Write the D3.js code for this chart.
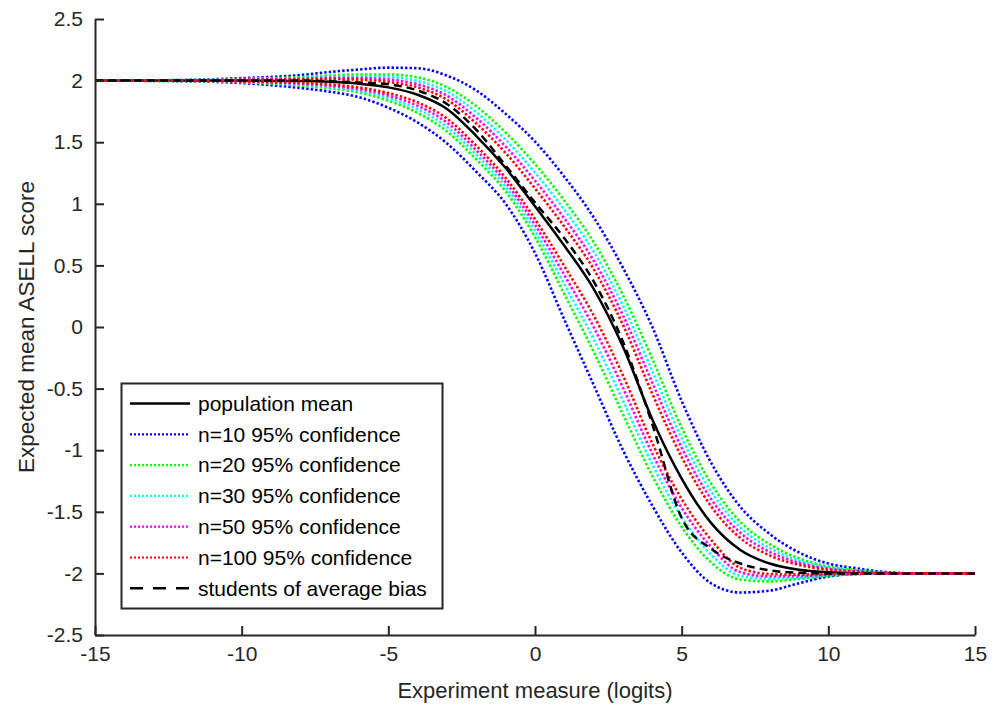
<!DOCTYPE html>
<html>
<head>
<meta charset="utf-8">
<script src="https://cdn.jsdelivr.net/npm/d3@7"></script>
<style>
  body { margin: 0; background: #fff; }
  svg { display: block; }
  text { font-family: "Liberation Sans", Arial, Helvetica, sans-serif; }
</style>
</head>
<body>
<svg id="chart" width="995" height="713"></svg>
<script>
// Person measure grid (logits) shared by every curve
const logits = [-15, -12, -10, -8, -7, -6, -5, -4, -3, -2, -1, 0, 1, 2, 3, 4, 5, 6, 7, 8, 9, 10, 11, 12, 13, 15];

// Expected mean ASELL score for the population
const populationMean = [2.00, 2.00, 2.00, 1.997, 1.99, 1.975, 1.945, 1.885, 1.77, 1.55, 1.29, 0.98, 0.66, 0.31, -0.16, -0.75, -1.23, -1.59, -1.81, -1.92, -1.97, -1.99, -1.998, -2.00, -2.00, -2.00];

// 95% confidence limits for class samples of size n
const n10Upper = [2.00, 2.005, 2.02, 2.045, 2.07, 2.09, 2.105, 2.10, 2.04, 1.92, 1.73, 1.505, 1.22, 0.89, 0.48, 0.00, -0.60, -1.10, -1.46, -1.68, -1.83, -1.92, -1.96, -1.99, -2.00, -2.00];
const n10Lower = [2.00, 1.995, 1.98, 1.94, 1.91, 1.865, 1.78, 1.66, 1.49, 1.26, 1.00, 0.60, 0.06, -0.47, -1.00, -1.45, -1.83, -2.08, -2.155, -2.14, -2.08, -2.025, -2.005, -2.00, -2.00, -2.00];
const n20Upper = [2.00, 2.003, 2.013, 2.028, 2.042, 2.050, 2.050, 2.026, 1.947, 1.792, 1.578, 1.323, 1.026, 0.689, 0.259, -0.259, -0.818, -1.270, -1.581, -1.763, -1.878, -1.944, -1.973, -1.993, -2.00, -2.00];
const n20Lower = [2.00, 1.997, 1.987, 1.960, 1.938, 1.903, 1.837, 1.738, 1.587, 1.360, 1.100, 0.731, 0.268, -0.200, -0.709, -1.208, -1.622, -1.910, -2.050, -2.065, -2.045, -2.020, -2.005, -2.00, -2.00, -2.00];
const n30Upper = [2.00, 2.003, 2.010, 2.022, 2.032, 2.035, 2.029, 1.997, 1.911, 1.743, 1.520, 1.254, 0.952, 0.613, 0.174, -0.358, -0.901, -1.334, -1.627, -1.795, -1.897, -1.953, -1.978, -1.995, -2.00, -2.00];
const n30Lower = [2.00, 1.997, 1.990, 1.967, 1.948, 1.918, 1.859, 1.768, 1.624, 1.399, 1.139, 0.782, 0.347, -0.097, -0.598, -1.115, -1.543, -1.846, -2.020, -2.045, -2.035, -2.015, -2.004, -2.00, -2.00, -2.00];
const n50Upper = [2.00, 2.002, 2.008, 2.016, 2.022, 2.021, 2.009, 1.970, 1.877, 1.697, 1.465, 1.188, 0.882, 0.540, 0.094, -0.452, -0.980, -1.395, -1.671, -1.825, -1.914, -1.962, -1.983, -1.996, -2.00, -2.00];
const n50Lower = [2.00, 1.998, 1.992, 1.974, 1.958, 1.931, 1.879, 1.796, 1.659, 1.435, 1.175, 0.829, 0.422, 0.000, -0.493, -1.028, -1.468, -1.785, -1.990, -2.025, -2.022, -2.010, -2.003, -2.00, -2.00, -2.00];
const n100Upper = [2.00, 2.001, 2.006, 2.010, 2.012, 2.007, 1.989, 1.945, 1.845, 1.652, 1.412, 1.125, 0.815, 0.471, 0.017, -0.542, -1.055, -1.454, -1.713, -1.854, -1.931, -1.971, -1.987, -1.997, -2.00, -2.00];
const n100Lower = [2.00, 1.999, 1.994, 1.981, 1.968, 1.945, 1.899, 1.823, 1.692, 1.470, 1.210, 0.875, 0.494, 0.094, -0.393, -0.944, -1.396, -1.726, -1.955, -2.005, -2.010, -2.005, -2.002, -2.00, -2.00, -2.00];

// Expected score for students of average bias
const averageBias = [2.00, 2.00, 2.00, 2.00, 1.995, 1.985, 1.97, 1.92, 1.81, 1.60, 1.31, 1.01, 0.72, 0.37, -0.12, -0.79, -1.55, -1.80, -1.92, -1.975, -1.995, -2.00, -2.00, -2.00, -2.00, -2.00];

// Axis ticks and labels
const xTicks = [-15, -10, -5, 0, 5, 10, 15];
const yTicks = [-2.5, -2, -1.5, -1, -0.5, 0, 0.5, 1, 1.5, 2, 2.5];
const xTitle = "Experiment measure (logits)";
const yTitle = "Expected mean ASELL score";

// Legend entries
const legendLabels = [
  "population mean",
  "n=10 95% confidence",
  "n=20 95% confidence",
  "n=30 95% confidence",
  "n=50 95% confidence",
  "n=100 95% confidence",
  "students of average bias"
];

// ---------------------------------------------------------------------
const svg = d3.select("#chart");
const margin = { left: 95, right: 20, top: 19, bottom: 78 };
const W = 995, H = 713;

const x = d3.scaleLinear().domain([-15, 15]).range([margin.left, W - margin.right]);
const y = d3.scaleLinear().domain([-2.5, 2.5]).range([H - margin.bottom, margin.top]);

const axisColor = "#262626";

const line = d3.line()
  .x((d, i) => x(logits[i]))
  .y(d => y(d))
  .curve(d3.curveMonotoneX);

const dotted = { width: 2.6, dash: "2.4,2.1" };
const series = [
  { values: [populationMean], color: "#000000", width: 2.5, dash: null },
  { values: [n10Upper, n10Lower], color: "#0000ff", width: dotted.width, dash: dotted.dash },
  { values: [n20Upper, n20Lower], color: "#00ff00", width: dotted.width, dash: dotted.dash },
  { values: [n30Upper, n30Lower], color: "#00ffff", width: dotted.width, dash: dotted.dash },
  { values: [n50Upper, n50Lower], color: "#ff00ff", width: dotted.width, dash: dotted.dash },
  { values: [n100Upper, n100Lower], color: "#ff0000", width: dotted.width, dash: dotted.dash },
  { values: [averageBias], color: "#000000", width: 2.5, dash: "8,5" }
];

// Curves
const plot = svg.append("g").attr("class", "curves");
series.forEach(s => {
  s.values.forEach(v => {
    plot.append("path")
      .datum(v)
      .attr("d", line)
      .attr("fill", "none")
      .attr("stroke", s.color)
      .attr("stroke-width", s.width)
      .attr("stroke-dasharray", s.dash)
      .attr("stroke-linejoin", "round");
  });
});

// Axes (ticks pointing inward, as in MATLAB)
const fmt = d => String(d);
const xAxis = svg.append("g")
  .attr("transform", `translate(0,${y(-2.5)})`)
  .call(d3.axisBottom(x).tickValues(xTicks).tickFormat(fmt).tickSizeInner(-9).tickSizeOuter(0).tickPadding(11));
const yAxis = svg.append("g")
  .attr("transform", `translate(${x(-15)},0)`)
  .call(d3.axisLeft(y).tickValues(yTicks).tickFormat(fmt).tickSizeInner(-9).tickSizeOuter(0).tickPadding(12));

[xAxis, yAxis].forEach(g => {
  g.select(".domain").attr("stroke", axisColor).attr("stroke-width", 2);
  g.selectAll(".tick line").attr("stroke", axisColor).attr("stroke-width", 2);
  g.selectAll(".tick text")
    .attr("fill", axisColor)
    .style("font-size", "21px")
    .style("font-family", "'Liberation Sans', Arial, sans-serif");
});

// Axis titles
svg.append("text")
  .attr("x", x(0))
  .attr("y", 698)
  .attr("text-anchor", "middle")
  .attr("fill", axisColor)
  .style("font-size", "22px")
  .text(xTitle);

svg.append("text")
  .attr("transform", `translate(34,${y(0)}) rotate(-90)`)
  .attr("text-anchor", "middle")
  .attr("fill", axisColor)
  .style("font-size", "22.5px")
  .text(yTitle);

// Legend
const legend = svg.append("g").attr("class", "legend");
const lg = { x: 121.5, y: 383.5, w: 321, h: 225, row0: 403.5, step: 30.8 };
legend.append("rect")
  .attr("x", lg.x).attr("y", lg.y)
  .attr("width", lg.w).attr("height", lg.h)
  .attr("fill", "#ffffff")
  .attr("stroke", axisColor)
  .attr("stroke-width", 2);

series.forEach((s, i) => {
  const ry = lg.row0 + i * lg.step;
  legend.append("line")
    .attr("x1", 130).attr("x2", 190)
    .attr("y1", ry).attr("y2", ry)
    .attr("stroke", s.color)
    .attr("stroke-width", s.dash === dotted.dash ? 2.2 : 2.5)
    .attr("stroke-dasharray", s.dash === dotted.dash ? "2,2" : (s.dash ? "13,10" : null));
  legend.append("text")
    .attr("x", 198)
    .attr("y", ry)
    .attr("dy", "0.35em")
    .attr("fill", "#000000")
    .style("font-size", "21px")
    .text(legendLabels[i]);
});
</script>
</body>
</html>
